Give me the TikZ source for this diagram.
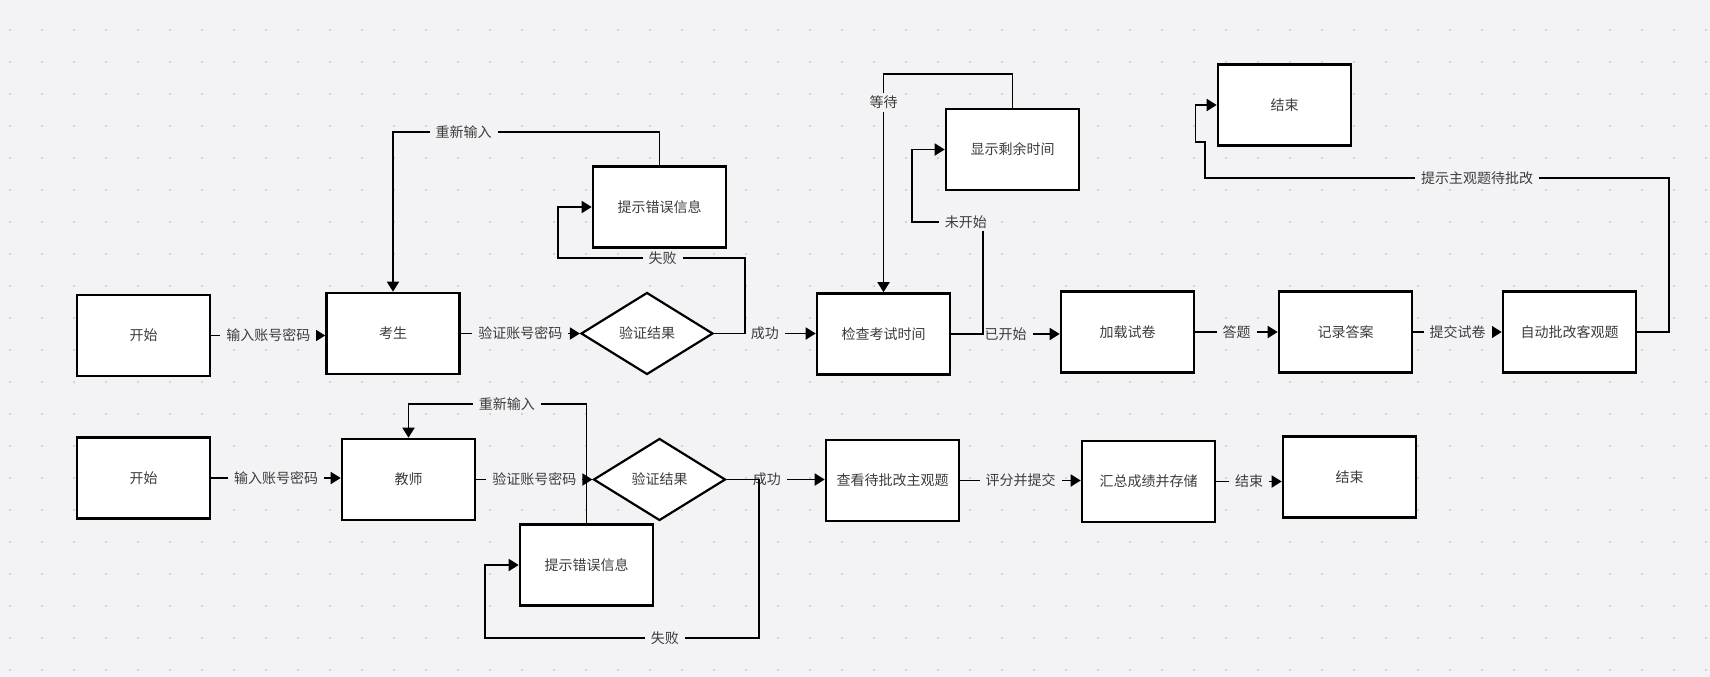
\documentclass[tikz,border=0pt]{standalone}
\usepackage{fontspec}
\setmainfont{Noto Sans CJK SC}
\usepackage{tikz}
\usetikzlibrary{shapes.geometric, arrows.meta, positioning, calc}
\definecolor{canvasgray}{RGB}{243, 243, 245}
\definecolor{gridgray}{RGB}{198, 198, 204}
\definecolor{textgray}{RGB}{60, 60, 60}

\begin{document}
\begin{tikzpicture}[x=1pt, y=-1pt,
  box/.style={draw=black, line width=2.6pt, fill=white, minimum width=133pt, minimum height=81pt, inner sep=2pt, text=textgray, font=\fontsize{14pt}{17pt}\selectfont},
  decision/.style={diamond, draw=black, line width=2.2pt, fill=white, minimum width=132pt, minimum height=82pt, inner sep=0pt, text=textgray, font=\fontsize{14pt}{17pt}\selectfont},
  flow/.style={line width=1.8pt, -{Triangle[length=10pt, width=12pt]}},
  lbl/.style={fill=canvasgray, inner xsep=6pt, inner ysep=3pt, text=textgray, font=\fontsize{14pt}{17pt}\selectfont}]
  \useasboundingbox (0,0) rectangle (1710,677);
  \fill[canvasgray] (0,0) rectangle (1710,677);
  \foreach \gx in {10,42,...,1706} {
    \foreach \gy in {30,62,...,670} {
      \fill[gridgray] (\gx,\gy) circle (1.1pt);
    }
  }

  % student row
  \node[box] (start1) at (143.5,335.5) {开始};
  \node[box] (stu) at (393,333.5) {考生};
  \node[decision] (chk1) at (647,333.5) {验证结果};
  \node[box] (err1) at (659.5,207) {提示错误信息};
  \node[box] (time) at (883.5,334) {检查考试时间};
  \node[box] (remain) at (1012.5,149.5) {显示剩余时间};
  \node[box] (load) at (1127.5,332) {加载试卷};
  \node[box] (rec) at (1345.5,332) {记录答案};
  \node[box] (auto) at (1569.5,332) {自动批改客观题};
  \node[box] (end1) at (1284.5,105) {结束};

  % teacher row
  \node[box] (start2) at (143.5,478) {开始};
  \node[box] (tea) at (408.5,479.5) {教师};
  \node[decision] (chk2) at (659.5,479.5) {验证结果};
  \node[box] (err2) at (586.5,565) {提示错误信息};
  \node[box] (view) at (892.5,480.5) {查看待批改主观题};
  \node[box] (sum) at (1148.5,481.5) {汇总成绩并存储};
  \node[box] (end2) at (1349.5,477) {结束};

  \draw[flow] (start1.east) -- node[lbl]{输入账号密码} (start1.east -| stu.west);
  \draw[flow] (stu.east) -- node[lbl]{验证账号密码} (stu.east -| chk1.west);
  \draw[flow] (chk1.east) -- node[lbl]{成功} (chk1.east -| time.west);
  \draw[flow] (chk1.east) -| (745,258) -- node[lbl, pos=0.44]{失败} (558,258) |- (err1.west);
  \draw[flow] (err1.north) -- (err1.north |- 0,132) -- node[lbl, pos=0.735]{重新输入} (stu.north |- 0,132) -- (stu.north);
  \draw[flow] (time.east) -- node[lbl]{已开始} (time.east -| load.west);
  \draw[flow] (time.east) -| (983,222) -- node[lbl, pos=0.24]{未开始} (912,222) |- (remain.west);
  \draw[flow] (remain.north) -- (remain.north |- 0,74) -- (time.north |- 0,74) -- node[lbl, pos=0.13]{等待} (time.north);
  \draw[flow] (load.east) -- node[lbl]{答题} (load.east -| rec.west);
  \draw[flow] (rec.east) -- node[lbl]{提交试卷} (rec.east -| auto.west);
  \draw[flow] (auto.east) -| (1669,178) -- node[lbl, pos=0.4135]{提示主观题待批改} (1205,178) -- (1205,142) -- (1195.5,142) |- (end1.west);

  \draw[flow] (start2.east) -- node[lbl]{输入账号密码} (start2.east -| tea.west);
  \draw[flow] (tea.east) -- node[lbl]{验证账号密码} (tea.east -| chk2.west);
  \draw[flow] (chk2.east) -- node[lbl, pos=0.41]{成功} (chk2.east -| view.west);
  \draw[flow] (chk2.east) -| (759,638) -- node[lbl, pos=0.344]{失败} (485,638) |- (err2.west);
  \draw[flow] (err2.north) -- (err2.north |- 0,404) -- node[lbl, pos=0.447]{重新输入} (tea.north |- 0,404) -- (tea.north);
  \draw[flow] (view.east) -- node[lbl]{评分并提交} (view.east -| sum.west);
  \draw[flow] (sum.east) -- node[lbl]{结束} (sum.east -| end2.west);
\end{tikzpicture}
\end{document}
